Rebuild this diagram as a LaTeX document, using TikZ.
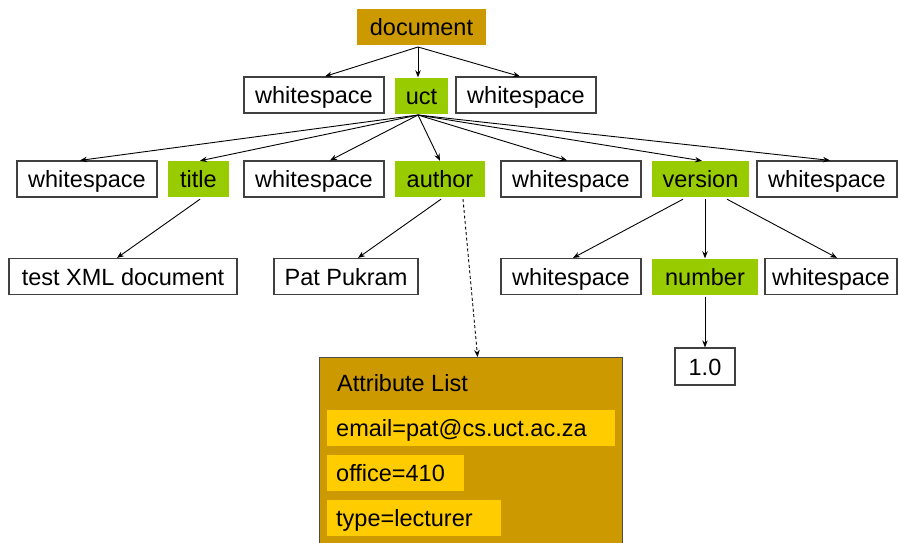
\documentclass[tikz,border=0pt]{standalone}
\usepackage{fontspec}
\setmainfont{Liberation Sans}
\usetikzlibrary{arrows.meta}
\definecolor{docgold}{HTML}{CC9900}
\definecolor{elgreen}{HTML}{99CC00}
\definecolor{attyellow}{HTML}{FFCC00}
\begin{document}
\begin{tikzpicture}[x=1pt,y=-1pt,
  every node/.style={font=\fontsize{23.5}{27}\selectfont, inner sep=0pt, minimum height=36pt, text height=18.5pt, text depth=1pt},
  wsbox/.style={draw=black!75, line width=1.2pt, fill=white},
  elbox/.style={fill=elgreen},
  docbox/.style={fill=docgold},
  attbox/.style={fill=attyellow, anchor=west, align=left, text width=#1-18pt, minimum width=#1, inner xsep=9pt},
  conn/.style={line width=0.9pt, -{Stealth[length=7pt,width=5.5pt]}},
  dconn/.style={line width=0.9pt, dashed, dash pattern=on 3pt off 2.5pt, -{Stealth[length=7pt,width=5.5pt]}}
]
\useasboundingbox (0,0) rectangle (898,542);
% root
\node[docbox, minimum width=129pt] (doc) at (421.5,27) {document};
\coordinate (docb) at (418,47);
% row 1
\node[wsbox, minimum width=140pt] (wsA) at (314,95) {whitespace};
\node[elbox, minimum width=53pt] (uct) at (421.5,95.5) {uct};
\node[wsbox, minimum width=140pt] (wsB) at (526,95) {whitespace};
\coordinate (uctb) at (418,115);
% row 2
\node[wsbox, minimum width=140pt] (ws1) at (87,179) {whitespace};
\node[elbox, minimum width=61pt] (title) at (198.5,179) {title};
\node[wsbox, minimum width=140pt] (ws2) at (314,179) {whitespace};
\node[elbox, minimum width=90pt] (author) at (440,179) {author};
\node[wsbox, minimum width=140pt] (ws3) at (571,179) {whitespace};
\node[elbox, minimum width=97pt] (version) at (700.5,179) {version};
\node[wsbox, minimum width=140pt] (ws4) at (827,179) {whitespace};
% row 3
\node[wsbox, minimum width=228pt] (txt) at (123,276.5) {test XML document};
\node[wsbox, minimum width=144pt] (pat) at (346,276.5) {Pat Pukram};
\node[wsbox, minimum width=140pt] (ws5) at (571,276.5) {whitespace};
\node[elbox, minimum width=106pt] (number) at (705,276.5) {number};
\node[wsbox, minimum width=132pt] (ws6) at (831,276.5) {whitespace};
% row 4
\node[wsbox, minimum width=60pt, minimum height=37pt] (one) at (705,366.5) {1.0};
% attribute list
\node[draw=black!70, line width=1.2pt, fill=docgold, minimum width=303pt, minimum height=200pt, anchor=north west] (attr) at (319,357) {};
\node[anchor=west, fill=none, minimum height=0pt] (attl) at (337,383) {Attribute List};
\node[attbox=288pt] (email) at (327,428) {email=pat@cs.uct.ac.za};
\node[attbox=137pt] (office) at (327,473) {office=410};
\node[attbox=174pt] (type) at (327,518) {type=lecturer};
% connectors from document
\draw[conn] (docb) -- ([xshift=11pt]wsA.north);
\draw[conn] (docb) -- ([xshift=-3.5pt]uct.north);
\draw[conn] (docb) -- ([xshift=-6pt]wsB.north);
% connectors from uct
\draw[conn] (uctb) -- ([xshift=-7pt]ws1.north);
\draw[conn] (uctb) -- ([xshift=1.5pt]title.north);
\draw[conn] (uctb) -- ([xshift=16pt]ws2.north);
\draw[conn] (uctb) -- (author.north);
\draw[conn] (uctb) -- ([xshift=-4pt]ws3.north);
\draw[conn] (uctb) -- ([xshift=1.5pt]version.north);
\draw[conn] (uctb) -- ([xshift=3pt]ws4.north);
% lower connectors
\draw[conn] ([xshift=1.5pt,yshift=-2pt]title.south) -- ([xshift=-6pt]txt.north);
\draw[conn] ([xshift=1pt,yshift=-2pt]author.south) -- ([xshift=12pt]pat.north);
\draw[dconn] ([xshift=23pt,yshift=-2pt]author.south) -- ([xshift=6.5pt]attr.north);
\draw[conn] ([xshift=-17.5pt,yshift=-2pt]version.south) -- ([xshift=2pt]ws5.north);
\draw[conn] ([xshift=4.5pt,yshift=-2pt]version.south) -- (number.north);
\draw[conn] ([xshift=26.5pt,yshift=-2pt]version.south) -- ([xshift=6pt]ws6.north);
\draw[conn] ([yshift=-2pt]number.south) -- (one.north);
\end{tikzpicture}
\end{document}
